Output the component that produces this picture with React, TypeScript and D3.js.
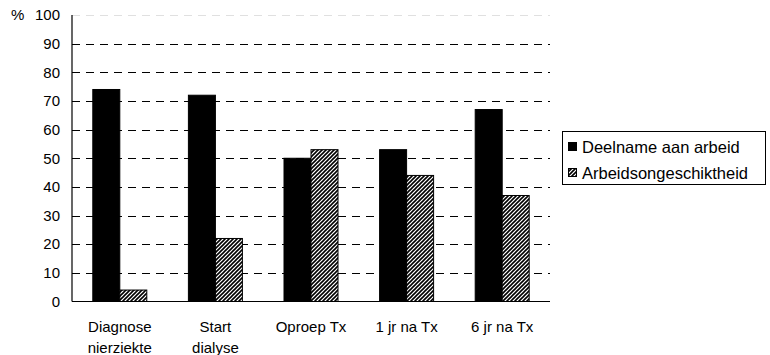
import React from "react";
import * as d3 from "d3";

const categories: string[][] = [
  ["Diagnose", "nierziekte"],
  ["Start", "dialyse"],
  ["Oproep Tx"],
  ["1 jr na Tx"],
  ["6 jr na Tx"],
];
const seriesNames = ["Deelname aan arbeid", "Arbeidsongeschiktheid"];
const deelname = [74, 72, 50, 53, 67];
const arbeidsongeschikt = [4, 22, 53, 44, 37];
const yTicks = [0, 10, 20, 30, 40, 50, 60, 70, 80, 90, 100];

const W = 770;
const H = 355;
const left = 72;
const right = 550;
const top = 15;
const bottom = 301.5;
const font = "'Liberation Sans', Arial, sans-serif";

export default function App() {
  const keys = categories.map((c) => c.join(" "));
  const x = d3.scaleBand<string>().domain(keys).range([left, right]);
  const y = d3.scaleLinear().domain([0, 100]).range([bottom, top]);
  const barW = 27;
  const series = [deelname, arbeidsongeschikt];
  const fills = ["#000", "url(#hatch)"];

  return (
    <svg
      width={W}
      height={H}
      style={{ position: "absolute", left: 0, top: 0, background: "#fff" }}
      fontFamily={font}
    >
      <defs>
        <pattern id="hatch" patternUnits="userSpaceOnUse" width={4} height={4}>
          <rect width={4} height={4} fill="#fff" />
          <path
            d="M-1,1 l2,-2 M0,4 l4,-4 M3,5 l2,-2"
            stroke="#000"
            strokeWidth={1.6}
          />
        </pattern>
      </defs>
      <rect width={W} height={H} fill="#fff" />
      {yTicks
        .filter((t) => t > 0)
        .map((t) => (
          <line
            key={t}
            x1={left}
            x2={right}
            y1={Math.round(y(t)) + 0.5}
            y2={Math.round(y(t)) + 0.5}
            stroke={t === 100 ? "#e0e0e0" : "#000"}
            strokeWidth={1}
            strokeDasharray="8,6"
          />
        ))}
      {keys.map((k, i) => {
        const cx = (x(k) as number) + x.bandwidth() / 2;
        return series.map((s, j) => (
          <rect
            key={k + j}
            x={cx - barW + j * barW}
            y={y(s[i])}
            width={barW}
            height={bottom - y(s[i])}
            fill={fills[j]}
            stroke="#000"
            strokeWidth={1}
          />
        ));
      })}
      <line x1={left} x2={left} y1={top} y2={bottom} stroke="#000" strokeWidth={1.2} />
      <line x1={left} x2={right} y1={bottom} y2={bottom} stroke="#000" strokeWidth={1.2} />
      {yTicks.map((t) => (
        <text
          key={t}
          x={60}
          y={y(t)}
          dy="0.35em"
          textAnchor="end"
          fontSize={15}
          fill="#000"
        >
          {t}
        </text>
      ))}
      <text x={11} y={y(100)} dy="0.35em" fontSize={15} fill="#000">
        %
      </text>
      {categories.map((lines, i) => {
        const cx = (x(keys[i]) as number) + x.bandwidth() / 2;
        return (
          <text key={i} textAnchor="middle" fontSize={15} fill="#000">
            {lines.map((l, li) => (
              <tspan key={li} x={cx} y={332 + li * 21}>
                {l}
              </tspan>
            ))}
          </text>
        );
      })}
      <rect x={562.5} y={131.5} width={203} height={53} fill="#fff" stroke="#000" strokeWidth={1} />
      {seriesNames.map((n, j) => (
        <g key={n}>
          <rect
            x={568.5}
            y={142.5 + j * 26}
            width={8}
            height={8}
            fill={fills[j]}
            stroke="#000"
            strokeWidth={1}
          />
          <text x={582} y={147 + j * 26} dy="0.35em" fontSize={16.5} fill="#000">
            {n}
          </text>
        </g>
      ))}
    </svg>
  );
}
